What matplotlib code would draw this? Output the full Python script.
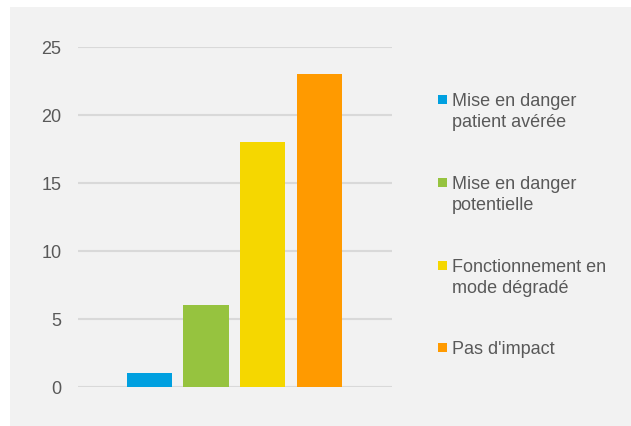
import matplotlib.pyplot as plt
from matplotlib.patches import Rectangle

# donnees
categories = ["Mise en danger\npatient avérée", "Mise en danger\npotentielle",
              "Fonctionnement en\nmode dégradé", "Pas d'impact"]
valeurs = [1, 6, 18, 23]
couleurs = ["#00A0E0", "#96C33F", "#F5D700", "#FF9A00"]
yticks = [0, 5, 10, 15, 20, 25]

W, H = 631, 426
fig = plt.figure(figsize=(W / 100, H / 100), dpi=100)
fig.patch.set_facecolor("white")
# fond gris du graphique
fig.patches.append(Rectangle((10 / W, 0), (W - 10) / W, (H - 7) / H,
                             transform=fig.transFigure, facecolor="#F2F2F2",
                             edgecolor="none", zorder=-5))

ax = fig.add_axes([78 / W, (H - 387) / H, (392 - 78) / W, (387 - 47) / H])
ax.set_zorder(2)
ax.set_facecolor("none")

x = list(range(len(valeurs)))
ax.bar(x, valeurs, width=0.8, color=couleurs, zorder=3)

ax.set_xlim(-1.26, 4.28)
ax.set_ylim(0, 25)
ax.set_yticks(yticks)
ax.set_xticks([])
ax.tick_params(axis="y", length=0, pad=12, labelsize=13, labelcolor="#595959")
for lbl in ax.get_yticklabels():
    lbl.set_fontfamily("Liberation Sans")
ax.grid(axis="y", color="#D9D9D9", linewidth=1.5, zorder=1)
for s in ax.spines.values():
    s.set_visible(False)

# legende manuelle
baselines = [106, 189, 272, 354]
for lab, col, yb in zip(categories, couleurs, baselines):
    fig.patches.append(Rectangle((438 / W, (H - yb + 2) / H), 9 / W, 9 / H,
                                 transform=fig.transFigure, facecolor=col,
                                 edgecolor="none", zorder=2))
    for i, ligne in enumerate(lab.split("\n")):
        fig.text(452 / W, (H - yb - i * 21) / H, ligne, fontsize=13,
                 color="#595959", family="Liberation Sans", va="baseline")

plt.savefig("out.png", dpi=100)
